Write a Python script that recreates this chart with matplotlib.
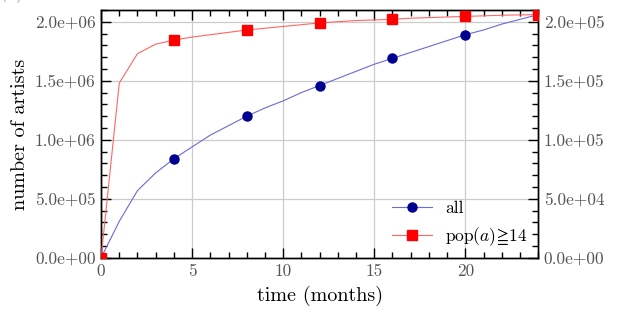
import matplotlib
matplotlib.use("Agg")
import matplotlib.pyplot as plt
from matplotlib.ticker import FormatStrFormatter, MultipleLocator
from matplotlib.lines import Line2D

plt.rcParams['font.family'] = ['cmr10', 'DejaVu Serif', 'DejaVu Sans']
plt.rcParams['mathtext.fontset'] = 'cm'
plt.rcParams['axes.unicode_minus'] = False

months = list(range(0, 25))
all_artists = [0.0, 0.31e6, 0.57e6, 0.72e6, 0.84e6, 0.94e6, 1.04e6, 1.12e6, 1.20e6,
               1.27e6, 1.33e6, 1.40e6, 1.46e6, 1.52e6, 1.58e6, 1.64e6, 1.69e6, 1.74e6,
               1.79e6, 1.84e6, 1.89e6, 1.93e6, 1.98e6, 2.02e6, 2.06e6]
pop_artists = [0.0, 1.48e5, 1.73e5, 1.81e5, 1.845e5, 1.87e5, 1.89e5, 1.91e5, 1.93e5,
               1.945e5, 1.96e5, 1.975e5, 1.99e5, 2.0e5, 2.01e5, 2.015e5, 2.02e5, 2.03e5,
               2.035e5, 2.04e5, 2.045e5, 2.05e5, 2.055e5, 2.058e5, 2.06e5]
left_ticks = [0, 0.5e6, 1.0e6, 1.5e6, 2.0e6]
right_ticks = [0, 0.5e5, 1.0e5, 1.5e5, 2.0e5]
x_ticks = [0, 5, 10, 15, 20]

fig = plt.figure(figsize=(6.2, 3.2), dpi=100)
ax = fig.add_axes([0.163, 0.194, 0.705, 0.775])
ax2 = ax.twinx()

tick_col = '#555555'
ax.plot(months, all_artists, color='#6a6ad8', lw=0.8, marker='o', markevery=4,
        markersize=6.5, markerfacecolor='#000090', markeredgecolor='#000090', zorder=3)
ax2.plot(months, pop_artists, color='#ff6666', lw=0.8, marker='s', markevery=4,
         markersize=6.5, markerfacecolor='#ff0000', markeredgecolor='#ff0000', zorder=3)

ax.set_xlim(0, 24)
ax.set_ylim(0, 2.1e6)
ax2.set_ylim(0, 2.1e5)
ax.set_xticks(x_ticks)
ax.set_yticks(left_ticks)
ax2.set_yticks(right_ticks)
ax.xaxis.set_minor_locator(MultipleLocator(1))
ax.yaxis.set_minor_locator(MultipleLocator(1e5))
ax2.yaxis.set_minor_locator(MultipleLocator(1e4))
ax.yaxis.set_major_formatter(FormatStrFormatter('%.1e'))
ax2.yaxis.set_major_formatter(FormatStrFormatter('%.1e'))

ax.grid(True, which='major', color='#cccccc', lw=0.9)
ax.set_axisbelow(True)

for a in (ax, ax2):
    a.tick_params(which='both', direction='in', top=True, labelsize=12.5, labelcolor=tick_col,
                  width=1.0, pad=4)
    a.tick_params(which='major', length=7)
    a.tick_params(which='minor', length=4)
    for s in a.spines.values():
        s.set_linewidth(1.0)
ax.tick_params(which='both', right=False)
ax2.tick_params(which='both', left=False, right=True)

ax.set_xlabel('time (months)', fontsize=14.5, labelpad=5)
ax.set_ylabel('number of artists', fontsize=14.5)

handles = [Line2D([], [], color='#6a6ad8', lw=0.8, marker='o', markersize=6.5,
                  markerfacecolor='#000090', markeredgecolor='#000090'),
           Line2D([], [], color='#ff6666', lw=0.8, marker='s', markersize=6.5,
                  markerfacecolor='#ff0000', markeredgecolor='#ff0000')]
ax2.legend(handles, ['all', r'pop($a$)$\!\geqq\!$14'], loc='lower right', frameon=False,
           fontsize=12.5, handlelength=2.3, handletextpad=0.8, borderaxespad=0.2,
           labelspacing=0.5)

fig.text(0.0, 1.0 - 3/320, '(a) Growth of the number of artists', color='#888888',
         fontsize=13, va='bottom', ha='left')

fig.savefig('out.png', dpi=100)
